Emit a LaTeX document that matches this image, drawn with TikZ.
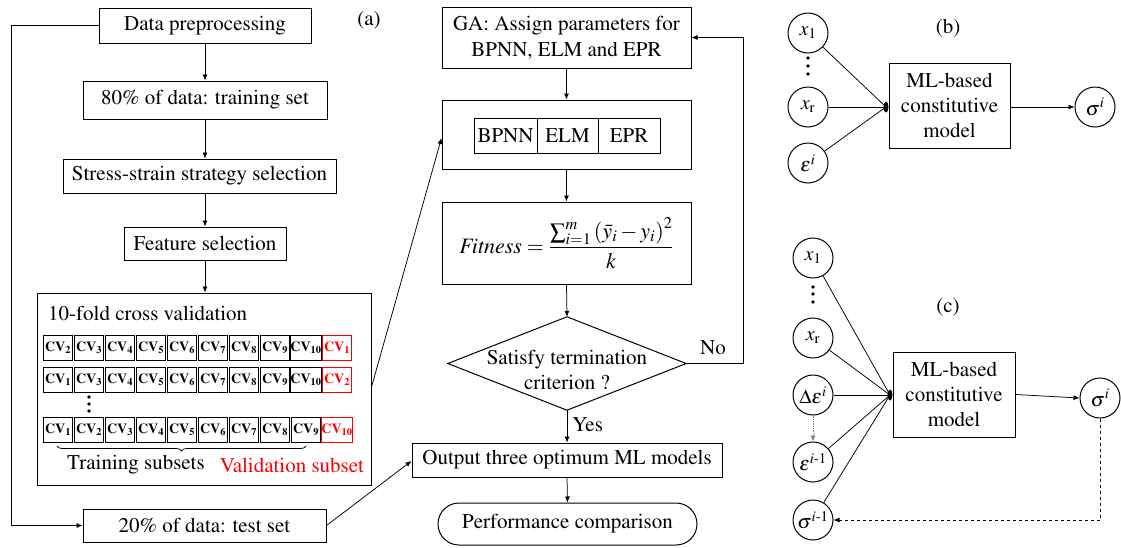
\documentclass[tikz,border=0pt]{standalone}
\usepackage{amsmath}
\usepackage[T1]{fontenc}
\usepackage{mathptmx}
\usetikzlibrary{arrows.meta,shapes.geometric,decorations.pathreplacing}
\tikzset{
  txt/.style={font=\fontsize{21}{25}\selectfont, inner sep=0, align=center},
  box/.style={draw, line width=1pt, txt},
  arr/.style={-{Latex[length=6pt,width=5pt]}, line width=0.75pt},
  ln/.style={line width=0.75pt},
  cvb/.style={draw, line width=1pt, minimum width=29.5pt, minimum height=25pt, inner sep=0, font=\fontsize{14}{14}\selectfont\bfseries},
  circ/.style={draw, circle, minimum size=40pt, inner sep=0, line width=1pt, font=\fontsize{20}{20}\selectfont},
  junc/.style={ellipse, fill=black, minimum width=5pt, minimum height=11pt, inner sep=0},
  dotn/.style={circle, fill=black, minimum size=3.6pt, inner sep=0},
}
\begin{document}
\begin{tikzpicture}[x=1pt,y=-1pt]
\useasboundingbox (0,0) rectangle (1121,547);

% ---------- (a) left column ----------
\node[box, minimum width=212pt, minimum height=35pt] (dp) at (205,25.5) {Data preprocessing};
\node[box, minimum width=244pt, minimum height=38pt] (tr) at (205,100) {80\% of data: training set};
\node[box, minimum width=273pt, minimum height=34pt] (ss) at (199.5,176) {Stress-strain strategy selection};
\node[box, minimum width=162pt, minimum height=33pt] (fs) at (205,243.5) {Feature selection};
\node[draw, line width=1pt, minimum width=334pt, minimum height=192pt, inner sep=0] (cv) at (204,389) {};
\node[txt, anchor=west] (cvt) at (48,313) {10-fold cross validation};
\node[box, minimum width=243pt, minimum height=33pt] (ts) at (204.5,525.5) {20\% of data: test set};
\node[txt] (la) at (369,20) {(a)};

% CV rows
\foreach \s [count=\k] in {2,3,4,5,6,7,8,9,10}
  \node[cvb] (ra\k) at ({58+31*(\k-1)},347.5) {CV\textsubscript{\s}};
\node[cvb, draw=red, text=red] (ra10) at (337,347.5) {CV\textsubscript{1}};
\foreach \s [count=\k] in {1,3,4,5,6,7,8,9,10}
  \node[cvb] (rb\k) at ({58+31*(\k-1)},380) {CV\textsubscript{\s}};
\node[cvb, draw=red, text=red] (rb10) at (337,380) {CV\textsubscript{2}};
\foreach \s [count=\k] in {1,2,3,4,5,6,7,8,9}
  \node[cvb] (rc\k) at ({58+31*(\k-1)},430) {CV\textsubscript{\s}};
\node[cvb, draw=red, text=red] (rc10) at (337,430) {CV\textsubscript{10}};
\node[dotn] (cd1) at (89,397) {};
\node[dotn] (cd2) at (89,404) {};
\node[dotn] (cd3) at (89,411) {};
\draw[line width=0.75pt, decorate, decoration={brace, amplitude=5pt}] (306,446) -- (57,446);
\node[txt] (trs) at (136,465) {Training subsets};
\node[txt, text=red] (vas) at (292,465) {Validation subset};

% ---------- (a) middle column ----------
\node[box, minimum width=249pt, minimum height=61pt, font=\fontsize{21}{26}\selectfont] (ga) at (566.5,37.5) {GA: Assign parameters for\\BPNN, ELM and EPR};
\node[draw, line width=1pt, minimum width=249pt, minimum height=69pt, inner sep=0] (outer) at (566.5,134.5) {};
\node[draw, line width=0.8pt, minimum width=63pt, minimum height=35pt, txt] (bp) at (505.5,135.5) {BPNN};
\node[draw, line width=0.8pt, minimum width=61pt, minimum height=35pt, txt] (elm) at (567.5,135.5) {ELM};
\node[draw, line width=0.8pt, minimum width=62pt, minimum height=35pt, txt] (epr) at (629,135.5) {EPR};
\node[box, minimum width=249pt, minimum height=82pt, font=\fontsize{22}{24}\selectfont] (fit) at (566.5,243)
  {$\mathit{Fitness}={\displaystyle\frac{\sum\nolimits_{i=1}^{m}\left(\bar{y}_i - y_i\right)^2}{k}}$};
\node[minimum width=238pt, minimum height=93pt, inner sep=0] (dia) at (567,363.5) {};
\draw[line width=1pt] (dia.north) -- (dia.east) -- (dia.south) -- (dia.west) -- cycle;
\node[txt] (diat) at (567,370) {Satisfy termination\\criterion ?};
\node[box, minimum width=310pt, minimum height=34pt] (out) at (567,460) {Output three optimum ML models};
\node[box, minimum width=259pt, minimum height=42pt, rounded corners=21pt] (perf) at (567.5,524) {Performance comparison};

% connectors (a)
\draw[arr] (dp.south) -- (tr.north);
\draw[arr] (tr.south) -- (tr.south |- ss.north);
\draw[arr] (fs.north |- ss.south) -- (fs.north);
\draw[arr] (fs.south) -- (fs.south |- cv.north);
\draw[arr] (dp.west) -- ++(-87,0) |- (ts.west);
\draw[arr] (ts.east) -- ([yshift=-1pt]out.west);
\draw[arr] ([yshift=2pt]cv.east) -- ([yshift=-3.5pt]outer.west);
\draw[arr] (ga.south) -- (outer.north);
\draw[arr] (outer.south) -- (fit.north);
\draw[arr] (fit.south) -- (dia.north);
\draw[arr] (dia.south) -- node[txt, right=5pt, pos=0.45] (yes) {Yes} (out.north);
\draw[arr] (out.south) -- (perf.north);
\draw[arr] (dia.east) -- ++(57,0) |- (ga.east);
\node[txt] (no) at (713,348) {No};

% ---------- (b) ----------
\node[txt] (lb) at (948,28) {(b)};
\node[circ] (bx1) at (808,33) {$x_1$};
\node[circ] (bxr) at (808,107) {$x_{\mathrm{r}}$};
\node[circ] (be) at (808,163) {$\varepsilon^{i}$};
\node[dotn] (bd1) at (808,58) {};
\node[dotn] (bd2) at (808,66) {};
\node[dotn] (bd3) at (808,74) {};
\node[box, minimum width=121pt, minimum height=85pt] (bml) at (949.5,105.5) {ML-based\\constitutive\\model};
\node[junc] (bj) at (886,107) {};
\node[circ] (bs) at (1095,107) {$\sigma^{i}$};
\draw[ln] (bx1) -- (bj.center);
\draw[ln] (bxr) -- (bj.center);
\draw[ln] (be) -- (bj.center);
\draw[arr] (bml.east |- bs.west) -- (bs.west);

% ---------- (c) ----------
\node[txt] (lc) at (948,307) {(c)};
\node[circ] (cx1) at (813,258) {$x_1$};
\node[dotn] (cd4) at (813,287) {};
\node[dotn] (cd5) at (813,294) {};
\node[dotn] (cd6) at (813,302) {};
\node[circ] (cxr) at (813,338) {$x_{\mathrm{r}}$};
\node[circ] (cde) at (813,395) {$\Delta\varepsilon^{i}$};
\node[circ] (cem) at (813,462) {$\varepsilon^{i\text{-}1}$};
\node[circ] (csm) at (813,520) {$\sigma^{i\text{-}1}$};
\node[box, minimum width=122pt, minimum height=85pt] (cml) at (954,394.5) {ML-based\\constitutive\\model};
\node[junc] (cj) at (890,395) {};
\node[circ] (cs) at (1100,398) {$\sigma^{i}$};
\draw[ln] (cx1) -- (cj.center);
\draw[ln] (cxr) -- (cj.center);
\draw[ln] (cde) -- (cj.center);
\draw[ln] (cem) -- (cj.center);
\draw[ln] (cj.center) -- (csm);
\draw[arr] (cml.east) -- (cs.west);
\draw[arr, dashed] (cs.south) |- (csm.east);
\draw[arr, densely dotted, gray, line width=0.6pt] (cde.south) -- (cem.north);
\end{tikzpicture}
\end{document}
